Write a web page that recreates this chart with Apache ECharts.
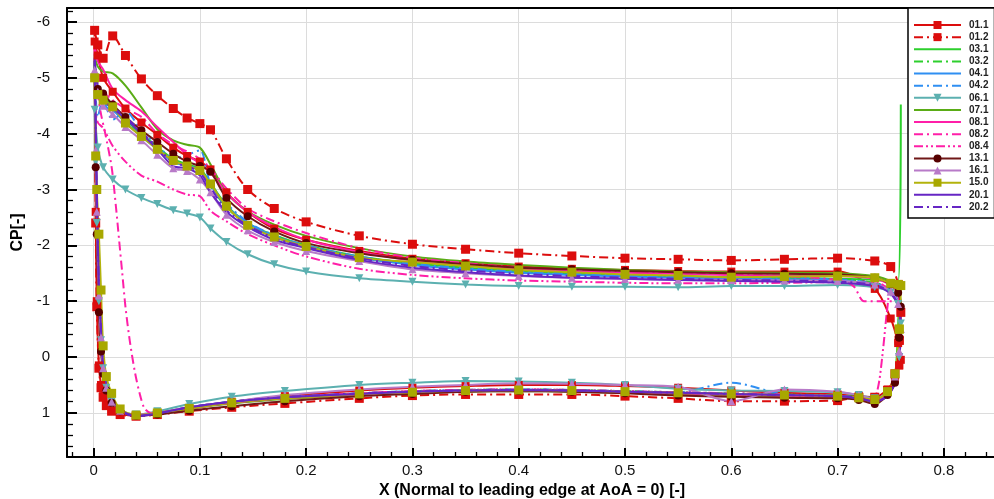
<!DOCTYPE html>
<html><head><meta charset="utf-8">
<script src="https://cdn.jsdelivr.net/npm/echarts@6/dist/echarts.min.js"></script>
<style>html,body{margin:0;padding:0;background:#fff}#c{width:994px;height:499px}</style>
</head><body><div id="c"></div>
<script>
// ---------- DATA ----------
const NAMES = ['01.1','01.2','03.1','03.2','04.1','04.2','06.1','07.1','08.1','08.2','08.4','13.1','16.1','15.0','20.1','20.2'];
const X_TICKS = [0,0.1,0.2,0.3,0.4,0.5,0.6,0.7,0.8];
const Y_TICKS = [-6,-5,-4,-3,-2,-1,0,1];

// upper (suction) side stations, leading edge -> trailing edge
const XU = [0.001,0.004,0.009,0.018,0.03,0.045,0.06,0.075,0.088,0.1,0.11,0.125,0.145,0.17,0.2,0.25,0.3,0.35,0.4,0.45,0.5,0.55,0.6,0.65,0.7,0.735,0.75,0.757,0.7595];
// lower (pressure) side stations, leading edge -> trailing edge
const XL = [0.002,0.003,0.005,0.007,0.009,0.012,0.017,0.025,0.04,0.06,0.09,0.13,0.18,0.25,0.3,0.35,0.4,0.45,0.5,0.55,0.6,0.65,0.7,0.72,0.735,0.747,0.754,0.758];

const CPU_011 = [-5.65,-5.4,-5.0,-4.75,-4.45,-4.2,-3.98,-3.75,-3.6,-3.5,-3.36,-2.95,-2.6,-2.3,-2.1,-1.9,-1.76,-1.68,-1.62,-1.58,-1.56,-1.54,-1.53,-1.53,-1.53,-1.22,-0.69,-0.25,0.05];
const CPL_011 = [-2.6,-1.0,0.15,0.5,0.7,0.85,0.96,1.02,1.05,1.0,0.93,0.8,0.7,0.6,0.55,0.52,0.5,0.5,0.52,0.55,0.6,0.64,0.67,0.7,0.72,0.58,0.4,0.15];
const CPU_012 = [-5.85,-5.59,-5.35,-5.75,-5.4,-4.98,-4.68,-4.45,-4.28,-4.18,-4.07,-3.55,-3.0,-2.66,-2.42,-2.17,-2.02,-1.93,-1.86,-1.81,-1.77,-1.75,-1.73,-1.75,-1.77,-1.72,-1.62,-1.3,-0.8];
const CPL_012 = [-2.4,-0.9,0.2,0.55,0.72,0.87,0.97,1.03,1.06,1.03,0.97,0.9,0.83,0.74,0.69,0.67,0.67,0.67,0.7,0.74,0.79,0.79,0.78,0.72,0.72,0.6,0.3,-0.3];
const CPU_031 = [-5.3,-4.8,-4.65,-4.5,-4.25,-4.0,-3.76,-3.55,-3.45,-3.37,-3.12,-2.72,-2.4,-2.18,-2.0,-1.8,-1.68,-1.6,-1.54,-1.5,-1.47,-1.45,-1.43,-1.42,-1.4,-1.38,-1.36,-1.35,-4.52];
const CPL_031 = [-3.8,-2.7,-1.2,-0.4,0.18,0.53,0.79,0.96,1.05,1.01,0.91,0.81,0.73,0.66,0.62,0.6,0.59,0.6,0.62,0.64,0.66,0.68,0.7,0.73,0.78,0.66,0.4,-1.3];
const CPU_032 = [-5.2,-4.75,-4.6,-4.45,-4.22,-3.97,-3.73,-3.5,-3.42,-3.33,-3.06,-2.68,-2.38,-2.15,-1.98,-1.78,-1.66,-1.58,-1.52,-1.48,-1.45,-1.43,-1.41,-1.4,-1.39,-1.33,-1.2,-1.0,-0.6];
const CPL_032 = [-3.7,-2.6,-1.15,-0.35,0.18,0.53,0.79,0.96,1.05,1.0,0.9,0.8,0.72,0.65,0.61,0.59,0.58,0.59,0.61,0.63,0.65,0.67,0.69,0.72,0.78,0.66,0.4,0.0];
const CPU_041 = [-5.25,-4.7,-4.5,-4.42,-4.2,-3.95,-3.72,-3.5,-3.42,-3.35,-3.08,-2.7,-2.4,-2.16,-1.98,-1.78,-1.65,-1.57,-1.51,-1.47,-1.44,-1.42,-1.4,-1.39,-1.37,-1.3,-1.17,-0.95,-0.5];
const CPL_041 = [-3.9,-2.8,-1.25,-0.45,0.17,0.52,0.78,0.96,1.05,1.01,0.9,0.8,0.72,0.66,0.62,0.6,0.59,0.6,0.62,0.64,0.66,0.68,0.7,0.74,0.8,0.68,0.42,0.0];
const CPU_042 = [-5.2,-4.3,-4.6,-4.25,-4.4,-4.05,-3.8,-3.55,-3.62,-3.7,-3.1,-2.75,-2.42,-2.18,-2.0,-1.8,-1.67,-1.59,-1.53,-1.49,-1.46,-1.44,-1.42,-1.41,-1.39,-1.32,-1.2,-1.0,-0.55];
const CPL_042 = [-3.9,-2.8,-1.2,-0.45,0.17,0.52,0.78,0.96,1.05,1.0,0.9,0.8,0.72,0.65,0.61,0.59,0.58,0.59,0.61,0.63,0.46,0.67,0.7,0.73,0.79,0.67,0.42,0.0];
const CPU_061 = [-4.43,-3.75,-3.4,-3.18,-3.0,-2.85,-2.74,-2.63,-2.57,-2.5,-2.3,-2.06,-1.84,-1.66,-1.53,-1.41,-1.35,-1.3,-1.27,-1.26,-1.26,-1.25,-1.27,-1.27,-1.29,-1.25,-1.15,-0.95,-0.6];
const CPL_061 = [-3.5,-2.4,-1.0,-0.3,0.2,0.55,0.8,0.95,1.03,0.97,0.84,0.71,0.61,0.5,0.46,0.43,0.44,0.46,0.5,0.57,0.6,0.61,0.63,0.68,0.74,0.62,0.38,0.0];
const CPU_071 = [-5.4,-5.2,-5.11,-5.08,-4.86,-4.47,-4.08,-3.88,-3.8,-3.75,-3.45,-2.95,-2.61,-2.37,-2.17,-1.95,-1.8,-1.71,-1.65,-1.6,-1.56,-1.53,-1.52,-1.51,-1.5,-1.45,-1.35,-1.2,-0.9];
const CPL_071 = [-3.6,-2.5,-1.1,-0.3,0.2,0.55,0.8,0.96,1.05,1.01,0.92,0.83,0.75,0.68,0.64,0.62,0.61,0.62,0.64,0.66,0.68,0.7,0.72,0.75,0.8,0.68,0.42,0.0];
const CPU_081 = [-5.57,-5.3,-5.15,-4.8,-4.6,-4.4,-4.12,-3.85,-3.62,-3.47,-3.3,-2.94,-2.6,-2.33,-2.1,-1.88,-1.73,-1.64,-1.58,-1.54,-1.51,-1.49,-1.47,-1.46,-1.45,-1.4,-1.28,-1.1,-0.7];
const CPL_081 = [-3.5,-2.4,-1.0,-0.25,0.22,0.55,0.8,0.96,1.04,1.0,0.91,0.82,0.74,0.67,0.63,0.61,0.6,0.61,0.63,0.65,0.67,0.69,0.71,0.74,0.79,0.67,0.4,0.0];
// 08.2 has its own stations (lower-side leading edge shifted aft, flat trailing edge)
const XU_082 = [0.002,0.005,0.009,0.018,0.03,0.045,0.06,0.075,0.088,0.1,0.11,0.125,0.145,0.17,0.2,0.25,0.3,0.35,0.4,0.45,0.5,0.55,0.6,0.65,0.7,0.715,0.725,0.745,0.759];
const CPU_082 = [-5.0,-4.85,-4.75,-4.6,-4.45,-4.3,-4.0,-3.8,-3.68,-3.55,-3.38,-3.02,-2.66,-2.43,-2.22,-1.95,-1.78,-1.68,-1.6,-1.55,-1.52,-1.5,-1.48,-1.45,-1.38,-1.27,-1.0,-1.0,-1.0];
const XL_082 = [0.004,0.007,0.011,0.017,0.021,0.024,0.027,0.03,0.034,0.039,0.044,0.048,0.054,0.065,0.09,0.13,0.18,0.25,0.3,0.35,0.4,0.45,0.5,0.55,0.6,0.65,0.7,0.72,0.735,0.747,0.754,0.758];
const CPL_082 = [-4.7,-4.35,-4.0,-3.4,-2.7,-2.1,-1.5,-0.9,-0.3,0.28,0.7,0.92,1.0,1.0,0.92,0.82,0.73,0.65,0.62,0.6,0.59,0.6,0.62,0.64,0.67,0.69,0.71,0.74,0.78,0.65,0.35,-0.4];
// 08.4 has its own stations (trailing edge closes near x = 0.745)
const XU_084 = [0.001,0.004,0.009,0.018,0.03,0.045,0.06,0.075,0.088,0.1,0.11,0.125,0.145,0.17,0.2,0.25,0.3,0.35,0.4,0.45,0.5,0.55,0.6,0.65,0.7,0.73,0.742,0.748];
const CPU_084 = [-4.5,-4.2,-4.1,-3.78,-3.5,-3.25,-3.14,-3.0,-2.91,-2.88,-2.62,-2.43,-2.2,-2.0,-1.8,-1.58,-1.47,-1.41,-1.37,-1.35,-1.33,-1.32,-1.32,-1.33,-1.34,-1.33,-1.3,-1.15];
const XL_084 = [0.002,0.003,0.005,0.007,0.009,0.012,0.017,0.025,0.04,0.06,0.09,0.13,0.18,0.25,0.3,0.35,0.4,0.45,0.5,0.55,0.6,0.65,0.7,0.72,0.733,0.738,0.742,0.746];
const CPL_084 = [-3.8,-2.7,-1.2,-0.4,0.18,0.52,0.78,0.96,1.05,1.0,0.9,0.8,0.72,0.65,0.61,0.59,0.58,0.59,0.61,0.63,0.65,0.67,0.7,0.73,0.76,0.55,0.0,-0.75];
const CPU_131 = [-5.02,-4.8,-4.72,-4.52,-4.3,-4.06,-3.85,-3.64,-3.5,-3.42,-3.32,-2.85,-2.52,-2.25,-2.04,-1.86,-1.74,-1.66,-1.6,-1.57,-1.54,-1.52,-1.5,-1.49,-1.48,-1.42,-1.3,-1.15,-0.9];
const CPL_131 = [-3.4,-2.2,-0.8,-0.1,0.3,0.6,0.82,0.97,1.05,1.03,0.96,0.88,0.79,0.7,0.66,0.62,0.61,0.62,0.65,0.69,0.71,0.73,0.74,0.77,0.84,0.68,0.46,-0.35];
const CPU_161 = [-5.14,-4.75,-4.5,-4.35,-4.12,-3.88,-3.62,-3.38,-3.33,-3.18,-2.95,-2.55,-2.27,-2.06,-1.9,-1.72,-1.57,-1.5,-1.45,-1.42,-1.4,-1.39,-1.38,-1.37,-1.36,-1.3,-1.17,-0.95,-0.5];
const CPL_161 = [-3.7,-2.6,-1.1,-0.35,0.2,0.55,0.8,0.96,1.04,1.0,0.9,0.8,0.68,0.58,0.53,0.5,0.47,0.48,0.5,0.53,0.79,0.58,0.62,0.68,0.76,0.62,0.35,-0.1];
const CPU_150 = [-5.0,-4.7,-4.6,-4.48,-4.19,-3.95,-3.72,-3.52,-3.42,-3.34,-3.1,-2.7,-2.36,-2.15,-1.98,-1.78,-1.7,-1.63,-1.56,-1.52,-1.48,-1.46,-1.43,-1.44,-1.45,-1.42,-1.32,-1.3,-1.28];
const CPL_150 = [-3.6,-3.0,-2.2,-1.2,-0.2,0.35,0.65,0.93,1.04,1.0,0.92,0.82,0.74,0.66,0.63,0.6,0.59,0.6,0.62,0.64,0.66,0.68,0.7,0.73,0.76,0.62,0.3,-0.5];
const CPU_201 = [-5.36,-4.85,-4.6,-4.45,-4.27,-4.0,-3.72,-3.42,-3.38,-3.25,-2.95,-2.6,-2.33,-2.1,-1.95,-1.74,-1.6,-1.52,-1.46,-1.42,-1.4,-1.38,-1.36,-1.35,-1.33,-1.27,-1.13,-0.9,-0.45];
const CPL_201 = [-4.0,-3.0,-1.3,-0.5,0.16,0.52,0.78,0.96,1.06,1.01,0.9,0.8,0.72,0.66,0.62,0.6,0.59,0.6,0.62,0.64,0.66,0.68,0.7,0.74,0.8,0.7,0.45,0.05];
const CPU_202 = [-5.3,-4.85,-4.62,-4.47,-4.3,-4.03,-3.76,-3.48,-3.42,-3.3,-3.03,-2.63,-2.36,-2.13,-1.97,-1.77,-1.63,-1.55,-1.49,-1.45,-1.42,-1.4,-1.38,-1.37,-1.35,-1.29,-1.15,-0.92,-0.5];
const CPL_202 = [-4.1,-2.95,-1.3,-0.5,0.15,0.5,0.77,0.95,1.05,1.01,0.9,0.8,0.72,0.65,0.62,0.6,0.59,0.6,0.62,0.64,0.66,0.68,0.7,0.73,0.8,0.69,0.44,0.05];

// ---------- STYLE ----------
const DD = [9,4,2,4];          // dash-dot
const DDD = [9,3,2,3,2,3];     // dash-dot-dot
const STYLE = {
  '01.1': {color:'#dc0d0d', type:'solid', symbol:'rect', size:8},
  '01.2': {color:'#dc0d0d', type:DD, symbol:'rect', size:9},
  '03.1': {color:'#2dcf2d', type:'solid', open:true},
  '03.2': {color:'#2dcf2d', type:DD},
  '04.1': {color:'#2f8ff2', type:'solid'},
  '04.2': {color:'#2f8ff2', type:DD},
  '06.1': {color:'#5cb0b0', type:'solid', symbol:'triangle', rotate:180, size:8},
  '07.1': {color:'#5aac16', type:'solid'},
  '08.1': {color:'#ff1fa8', type:'solid'},
  '08.2': {color:'#ff1fa8', type:DD},
  '08.4': {color:'#ff1fa8', type:DDD},
  '13.1': {color:'#701818', type:'solid', symbol:'circle', size:8, mark:'#560000'},
  '16.1': {color:'#b87ac8', type:'solid', symbol:'triangle', size:8},
  '15.0': {color:'#b3b30c', type:'solid', symbol:'rect', size:9, mark:'#a8a800'},
  '20.1': {color:'#6626c4', type:'solid'},
  '20.2': {color:'#6626c4', type:DD}
};
const SRC = {
  '01.1':[XU,CPU_011,XL,CPL_011], '01.2':[XU,CPU_012,XL,CPL_012],
  '03.1':[XU,CPU_031,XL,CPL_031], '03.2':[XU,CPU_032,XL,CPL_032],
  '04.1':[XU,CPU_041,XL,CPL_041], '04.2':[XU,CPU_042,XL,CPL_042],
  '06.1':[XU,CPU_061,XL,CPL_061], '07.1':[XU,CPU_071,XL,CPL_071],
  '08.1':[XU,CPU_081,XL,CPL_081], '08.2':[XU_082,CPU_082,XL_082,CPL_082],
  '08.4':[XU_084,CPU_084,XL_084,CPL_084], '13.1':[XU,CPU_131,XL,CPL_131],
  '16.1':[XU,CPU_161,XL,CPL_161], '15.0':[XU,CPU_150,XL,CPL_150],
  '20.1':[XU,CPU_201,XL,CPL_201], '20.2':[XU,CPU_202,XL,CPL_202]
};

function loop(xu, cu, xl, cl, open) {
  const pts = [];
  for (let i = xl.length - 1; i >= 0; i--) pts.push([xl[i], cl[i]]);
  for (let i = 0; i < xu.length; i++) pts.push([xu[i], cu[i]]);
  if (!open) pts.push(pts[0].slice());
  return pts;
}

const series = NAMES.map(n => {
  const st = STYLE[n], s = SRC[n];
  return {
    type:'line', name:n, data: loop(s[0], s[1], s[2], s[3], st.open),
    smooth:0.3, animation:false, silent:true,
    symbol: st.symbol || 'none', showSymbol: !!st.symbol,
    symbolSize: st.size || 0, symbolRotate: st.rotate || 0,
    lineStyle:{color:st.color, width:2, type:st.type},
    itemStyle:{color: st.mark || st.color, borderWidth:0}
  };
});

const FONT = 'Liberation Sans';
const isTick = (v, arr) => arr.some(t => Math.abs(t - v) < 1e-9);
const chart = echarts.init(document.getElementById('c'), null, {renderer:'canvas'});
chart.setOption({
  animation:false,
  backgroundColor:'#fff',
  textStyle:{fontFamily:FONT},
  grid:{left:67, top:8, width:930, height:449, containLabel:false, outerBoundsMode:'none'},
  xAxis:[{
    type:'value', min:-0.025, max:0.85, splitNumber:9, position:'bottom',
    name:'X (Normal to leading edge at AoA = 0) [-]', nameLocation:'middle', nameGap:24,
    nameTextStyle:{fontWeight:'bold', fontSize:16, color:'#000', fontFamily:FONT},
    axisLine:{show:true, onZero:false, lineStyle:{color:'#000', width:2}},
    axisTick:{show:true, inside:true, length:9, lineStyle:{color:'#000', width:2}},
    minorTick:{show:true, splitNumber:5, length:5, lineStyle:{color:'#000', width:1.3}},
    splitLine:{show:true, lineStyle:{color:'#dcdcdc', width:1}},
    axisLabel:{margin:6, fontSize:15, color:'#111', fontFamily:FONT,
      formatter:v => isTick(v, X_TICKS) ? String(Math.round(v*10)/10) : ''}
  },{
    type:'value', min:-0.025, max:0.85, position:'top',
    axisLine:{show:true, onZero:false, lineStyle:{color:'#000', width:2}},
    axisTick:{show:false}, axisLabel:{show:false}, splitLine:{show:false}
  }],
  yAxis:[{
    type:'value', inverse:true, min:-6.25, max:1.79, splitNumber:8,
    name:'CP[-]', nameLocation:'middle', nameGap:37,
    nameTextStyle:{fontWeight:'bold', fontSize:16, color:'#000', fontFamily:FONT},
    axisLine:{show:true, onZero:false, lineStyle:{color:'#000', width:2}},
    axisTick:{show:true, inside:true, length:10, lineStyle:{color:'#000', width:2}},
    minorTick:{show:true, splitNumber:5, length:6, lineStyle:{color:'#000', width:1.3}},
    splitLine:{show:true, lineStyle:{color:'#dcdcdc', width:1}},
    axisLabel:{margin:17, fontSize:15, color:'#111', fontFamily:FONT,
      formatter:v => isTick(v, Y_TICKS) ? String(Math.round(v)) : ''}
  }],
  legend:{
    orient:'vertical', left:908, top:8, padding:[12,6,6,5],
    itemWidth:47, itemHeight:10, itemGap:2.13, selectedMode:false,
    backgroundColor:'#fff', borderColor:'#000', borderWidth:1.5, borderRadius:0,
    textStyle:{fontSize:10, fontWeight:'bold', color:'#222', fontFamily:FONT, lineHeight:10, padding:[0,0,0,3]},
    data: NAMES.map(n => STYLE[n].symbol ? {name:n} : {name:n, itemStyle:{opacity:0}})
  },
  series: series
});
</script>
</body></html>
